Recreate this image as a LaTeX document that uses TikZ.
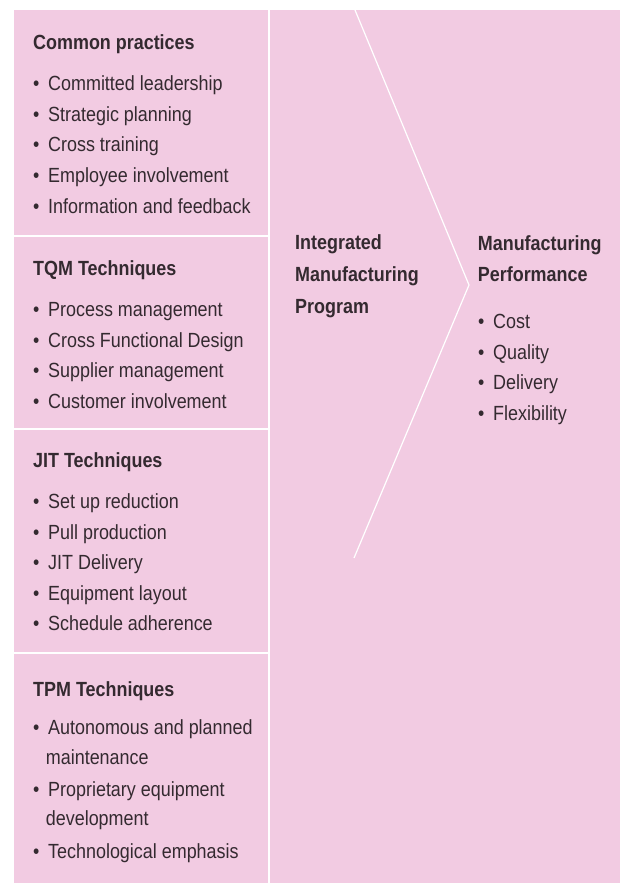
\documentclass[tikz,border=0pt]{standalone}
\usepackage{fontspec}
\setmainfont{Liberation Sans}[FakeStretch=0.875]
\usetikzlibrary{positioning}

\definecolor{pinkbg}{RGB}{242,203,226}
\definecolor{inkgrey}{RGB}{52,42,48}

\newcommand{\bul}[1]{\makebox[15pt][l]{\textbullet}#1}

\begin{document}
\begin{tikzpicture}[x=1pt, y=-1pt,
        head/.style={anchor=base west, inner sep=0pt, text=inkgrey, font=\fontsize{20.5}{24}\selectfont\bfseries},
        item/.style={anchor=base west, inner sep=0pt, text=inkgrey, font=\fontsize{20.5}{24}\selectfont},
        divider/.style={draw=white, line width=1.8pt},
        chevron/.style={draw=white, line width=1.2pt}
    ]
        \useasboundingbox (0,0) rectangle (624,883);
        \fill[pinkbg] (14,10) rectangle (620,883);

        % white rules between the panels
        \draw[divider] (269,10) -- (269,883);
        \foreach \y in {236,429,653}
            \draw[divider] (14,\y) -- (269,\y);
        \draw[chevron] (355,10) -- (469,285) -- (354,558);

        % Common practices
        \node[head] (cp-head) at (33,50) {Common practices};
        \foreach \txt [count=\i] in {Committed leadership, Strategic planning, Cross training, Employee involvement, Information and feedback}
            \node[item] (cp-\i) at (33,60+30.65*\i) {\bul{\txt}};

        % TQM techniques
        \node[head] (tqm-head) at (33,275) {TQM Techniques};
        \foreach \txt [count=\i] in {Process management, Cross Functional Design, Supplier management, Customer involvement}
            \node[item] (tqm-\i) at (33,286+30.5*\i) {\bul{\txt}};

        % JIT techniques
        \node[head] (jit-head) at (33,467.3) {JIT Techniques};
        \foreach \txt [count=\i] in {Set up reduction, Pull production, JIT Delivery, Equipment layout, Schedule adherence}
            \node[item] (jit-\i) at (33,477.7+30.65*\i) {\bul{\txt}};

        % TPM techniques
        \node[head] (tpm-head) at (33,696.7) {TPM Techniques};
        \node[item] (tpm-1) at (33,734.3) {\bul{Autonomous and planned}};
        \node[item] (tpm-1b) at (45.7,764.3) {maintenance};
        \node[item] (tpm-2) at (33,796.7) {\bul{Proprietary equipment}};
        \node[item] (tpm-2b) at (45.7,825.7) {development};
        \node[item] (tpm-3) at (33,858.3) {\bul{Technological emphasis}};

        % Integrated program
        \foreach \txt [count=\i] in {Integrated, Manufacturing, Program}
            \node[head] (imp-\i) at (295,218.3+31.6*\i) {\txt};

        % Manufacturing performance
        \node[head] (mp-1) at (477.7,250) {Manufacturing};
        \node[head] (mp-2) at (477.7,281.7) {Performance};
        \foreach \txt [count=\i] in {Cost, Quality, Delivery, Flexibility}
            \node[item] (perf-\i) at (478,297.5+30.75*\i) {\bul{\txt}};

    \end{tikzpicture}
\end{document}
